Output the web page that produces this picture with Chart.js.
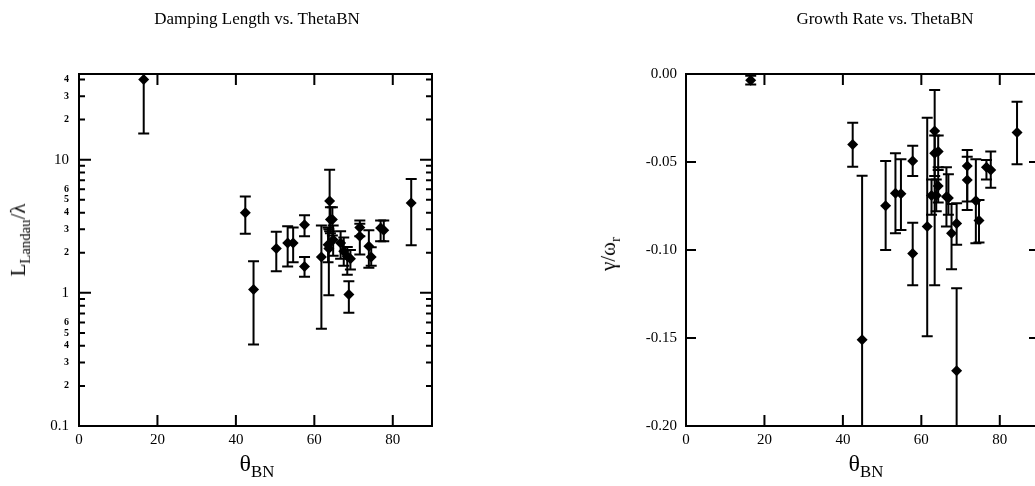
<!DOCTYPE html>
<html>
<head>
<meta charset="utf-8">
<script src="https://cdn.jsdelivr.net/npm/chart.js@4.4.1/dist/chart.umd.min.js"></script>
<style>
  html, body { margin: 0; padding: 0; background: #fff; overflow: hidden; width: 1035px; height: 486px; }
  .panel { position: absolute; top: 0; }
  .txt { position: absolute; font-family: 'Liberation Serif', 'Times New Roman', serif; color: #000; white-space: nowrap; transform: translate(-50%, -50%); }
  .rot { transform: translate(-50%, -50%) rotate(-90deg); }
  sub { font-size: 70%; vertical-align: -0.35em; }
</style>
</head>
<body>
<div class="panel" style="left:0;"><canvas id="damping" width="517" height="486"></canvas></div>
<div class="panel" style="left:517px;"><canvas id="growth" width="560" height="486"></canvas></div>

<div class="txt" style="left:257px; top:19px; font-size:17px;">Damping Length vs. ThetaBN</div>
<div class="txt" style="left:885px; top:19px; font-size:17px;">Growth Rate vs. ThetaBN</div>
<div class="txt rot" style="left:20px; top:240px; font-size:21px;">L<sub>Landau</sub>/λ</div>
<div class="txt rot" style="left:610px; top:254px; font-size:21px;">γ/ω<sub>r</sub></div>
<div class="txt" style="left:257px; top:466px; font-size:24px;">θ<sub>BN</sub></div>
<div class="txt" style="left:866px; top:466px; font-size:24px;">θ<sub>BN</sub></div>

<script>
// theta_BN (degrees) and damping length L_Landau / lambda with error range
const thetaDamp = [16.5, 42.4, 44.5, 50.3, 53.2, 54.6, 57.5, 57.5, 61.8, 63.5, 63.9, 64.1, 64.6, 63.7, 64.8, 66.7, 67.5, 68.4, 68.8, 69.2, 71.6, 71.6, 73.9, 74.5, 76.9, 77.7, 84.7];
const damping    = [40, 4.0, 1.06, 2.15, 2.37, 2.37, 3.25, 1.58, 1.86, 2.3, 4.9, 3.55, 3.55, 2.15, 2.5, 2.37, 2.05, 1.88, 0.97, 1.8, 3.1, 2.66, 2.24, 1.86, 3.07, 2.95, 4.73];
const dampingLo  = [15.7, 2.78, 0.41, 1.45, 1.58, 1.7, 2.66, 1.32, 0.537, 1.7, 2.9, 2.8, 2.7, 0.96, 1.9, 1.8, 1.6, 1.37, 0.71, 1.5, 2.66, 1.94, 1.54, 1.6, 2.44, 2.44, 2.28];
const dampingHi  = [46, 5.3, 1.73, 2.87, 3.16, 3.1, 3.82, 1.86, 3.2, 3.1, 8.4, 4.4, 4.4, 3.0, 3.2, 2.9, 2.6, 2.21, 1.22, 2.1, 3.5, 3.3, 2.95, 2.2, 3.5, 3.49, 7.17];

// theta_BN (degrees) and growth rate gamma / omega_r with error range
const thetaGrowth = [16.5, 42.5, 44.9, 50.9, 53.4, 54.8, 57.8, 57.8, 61.5, 62.6, 63.4, 63.4, 63.8, 64.3, 64.3, 66.4, 66.9, 67.7, 69.0, 69.0, 71.7, 71.7, 73.9, 74.7, 76.6, 77.7, 84.4];
const growth      = [-0.0035, -0.040, -0.151, -0.0748, -0.0678, -0.068, -0.0494, -0.102, -0.0867, -0.069, -0.0324, -0.045, -0.069, -0.0441, -0.0636, -0.0697, -0.0705, -0.0905, -0.0849, -0.1686, -0.0523, -0.0602, -0.072, -0.0833, -0.053, -0.0545, -0.0333];
const growthLo    = [-0.006, -0.0527, -0.25, -0.100, -0.0905, -0.0886, -0.058, -0.12, -0.149, -0.080, -0.12, -0.058, -0.078, -0.0545, -0.073, -0.0867, -0.08, -0.111, -0.097, -0.25, -0.0773, -0.0725, -0.0962, -0.0958, -0.06, -0.0646, -0.0513];
const growthHi    = [-0.001, -0.0277, -0.0578, -0.0494, -0.045, -0.0485, -0.0407, -0.0845, -0.0248, -0.060, -0.0091, -0.035, -0.060, -0.035, -0.053, -0.053, -0.057, -0.0739, -0.0735, -0.1218, -0.0432, -0.047, -0.0485, -0.0716, -0.0489, -0.044, -0.0157];

// tick labels
const thetaTicks = [0, 20, 40, 60, 80];
const dampMinorLabels = [2, 3, 4, 5, 6];
const growthTicks = [0, -0.05, -0.10, -0.15, -0.20];

const serif = 'Liberation Serif';

function mantissa(v) {
  const m = v / Math.pow(10, Math.floor(Math.log10(v) + 1e-9));
  return Math.round(m * 1000) / 1000;
}

// vertical error bars with caps, from the dataset points
const errorBars = {
  id: 'errorBars',
  afterDatasetsDraw(chart) {
    const { ctx, chartArea, scales } = chart;
    const pts = chart.data.datasets[0].data;
    ctx.save();
    ctx.beginPath();
    ctx.rect(chartArea.left, chartArea.top, chartArea.width, chartArea.height);
    ctx.clip();
    ctx.strokeStyle = '#000';
    ctx.lineWidth = 2;
    pts.forEach(p => {
      const px = scales.x.getPixelForValue(p.x);
      const y1 = scales.y.getPixelForValue(p.lo);
      const y2 = scales.y.getPixelForValue(p.hi);
      ctx.beginPath();
      ctx.moveTo(px, y1); ctx.lineTo(px, y2);
      ctx.moveTo(px - 5.5, y1); ctx.lineTo(px + 5.5, y1);
      ctx.moveTo(px - 5.5, y2); ctx.lineTo(px + 5.5, y2);
      ctx.stroke();
    });
    ctx.restore();
  }
};

// frame box with inward ticks on all four sides
const frame = {
  id: 'frame',
  afterDraw(chart, args, opts) {
    const { ctx, chartArea: a, scales } = chart;
    ctx.save();
    ctx.strokeStyle = '#000';
    ctx.lineWidth = 2;
    ctx.strokeRect(a.left, a.top, a.right - a.left, a.bottom - a.top);
    ctx.beginPath();
    scales.x.ticks.forEach(t => {
      if (t.value <= scales.x.min || t.value >= scales.x.max) return;
      const px = scales.x.getPixelForValue(t.value);
      ctx.moveTo(px, a.bottom); ctx.lineTo(px, a.bottom - 11);
      ctx.moveTo(px, a.top); ctx.lineTo(px, a.top + 11);
    });
    scales.y.ticks.forEach(t => {
      if (t.value <= scales.y.min || t.value >= scales.y.max) return;
      let len = 10;
      if (opts.log) len = mantissa(t.value) === 1 ? 12 : 6;
      const py = scales.y.getPixelForValue(t.value);
      ctx.moveTo(a.left, py); ctx.lineTo(a.left + len, py);
      ctx.moveTo(a.right, py); ctx.lineTo(a.right - len, py);
    });
    ctx.stroke();
    ctx.restore();
  }
};

const xScale = (labelSize) => ({
  type: 'linear',
  min: 0,
  max: 90,
  grid: { display: false, drawTicks: false },
  border: { display: false },
  afterBuildTicks: s => { s.ticks = thetaTicks.map(v => ({ value: v })); },
  afterFit: s => { s.height = 60; },
  ticks: {
    autoSkip: false,
    maxRotation: 0,
    padding: 5,
    color: '#000',
    font: { family: serif, size: labelSize }
  }
});

new Chart(document.getElementById('damping'), {
  type: 'scatter',
  data: {
    datasets: [{
      data: thetaDamp.map((x, i) => ({ x: x, y: damping[i], lo: dampingLo[i], hi: dampingHi[i] })),
      pointStyle: 'rectRot',
      pointRadius: 5.5,
      backgroundColor: '#000',
      borderColor: '#000',
      borderWidth: 0
    }]
  },
  options: {
    responsive: false,
    animation: false,
    layout: { padding: { left: 0, right: 85, top: 74, bottom: 0 } },
    plugins: { legend: { display: false }, tooltip: { enabled: false }, frame: { log: true } },
    scales: {
      x: xScale(15),
      y: {
        type: 'logarithmic',
        min: 0.1,
        max: 44,
        grid: { display: false, drawTicks: false },
        border: { display: false },
        afterBuildTicks: s => { s.ticks = s.ticks.filter(t => Number.isInteger(mantissa(t.value))); },
        afterFit: s => { s.width = 79; },
        ticks: {
          autoSkip: false,
          padding: 10,
          color: '#000',
          font: ctx => ({ family: serif, size: mantissa(ctx.tick.value) === 1 ? 15 : 10, weight: mantissa(ctx.tick.value) === 1 ? 'normal' : 'bold' }),
          callback: v => {
            const m = mantissa(v);
            if (m === 1) return String(v);
            return dampMinorLabels.includes(m) ? String(m) : '';
          }
        }
      }
    }
  },
  plugins: [errorBars, frame]
});

new Chart(document.getElementById('growth'), {
  type: 'scatter',
  data: {
    datasets: [{
      data: thetaGrowth.map((x, i) => ({ x: x, y: growth[i], lo: growthLo[i], hi: growthHi[i] })),
      pointStyle: 'rectRot',
      pointRadius: 5.5,
      backgroundColor: '#000',
      borderColor: '#000',
      borderWidth: 0
    }]
  },
  options: {
    responsive: false,
    animation: false,
    layout: { padding: { left: 0, right: 38, top: 74, bottom: 0 } },
    plugins: { legend: { display: false }, tooltip: { enabled: false }, frame: { log: false } },
    scales: {
      x: xScale(15),
      y: {
        type: 'linear',
        min: -0.20,
        max: 0,
        grid: { display: false, drawTicks: false },
        border: { display: false },
        afterBuildTicks: s => { s.ticks = growthTicks.map(v => ({ value: v })); },
        afterFit: s => { s.width = 169; },
        ticks: {
          autoSkip: false,
          padding: 9,
          color: '#000',
          font: { family: serif, size: 15 },
          callback: v => v.toFixed(2)
        }
      }
    }
  },
  plugins: [errorBars, frame]
});
</script>
</body>
</html>
